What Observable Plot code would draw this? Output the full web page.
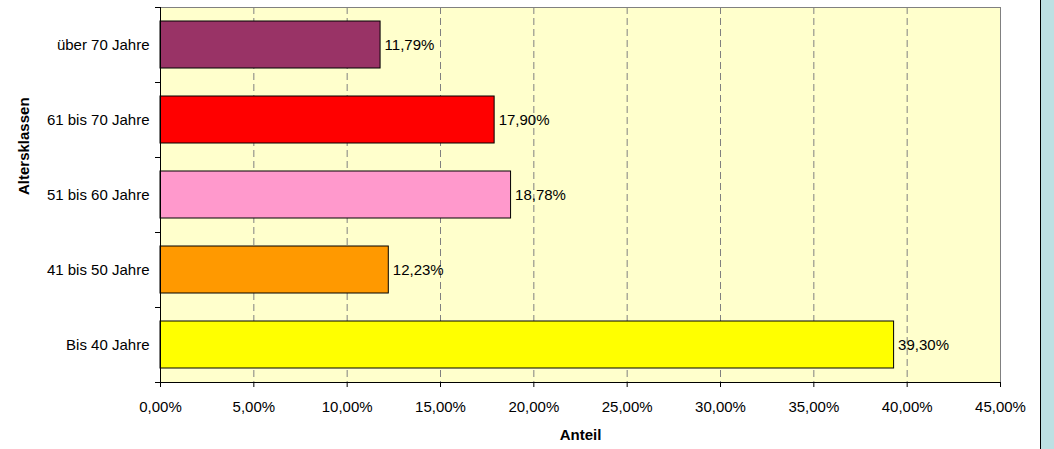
<!DOCTYPE html>
<html><head><meta charset="utf-8">
<script src="https://cdn.jsdelivr.net/npm/d3@7"></script>
<script src="https://cdn.jsdelivr.net/npm/@observablehq/plot@0.6"></script>
<style>
body{margin:0;background:#fff;font-family:"Liberation Sans",Arial,sans-serif;}
#wrap{position:relative;width:1054px;height:449px;overflow:hidden}
#strip{position:absolute;left:1040px;top:0;width:14px;height:449px;background:#BDE0E3;border-left:1px solid #000;box-sizing:border-box}
</style></head><body><div id="wrap"><div id="strip"></div></div>
<script>
const categories = ["über 70 Jahre","61 bis 70 Jahre","51 bis 60 Jahre","41 bis 50 Jahre","Bis 40 Jahre"];
const shares = [0.1179, 0.1790, 0.1878, 0.1223, 0.3930];
const colors = ["#993366","#FF0000","#FF99CC","#FF9900","#FFFF00"];
const xTicks = [0, 0.05, 0.10, 0.15, 0.20, 0.25, 0.30, 0.35, 0.40, 0.45];
const gridTicks = xTicks.slice(1, -1);
const fmt = d => (d * 100).toFixed(2).replace(".", ",") + "%";
const data = categories.map((c, i) => ({c, v: shares[i]}));

const W = 1054, H = 449, mt = 7, mb = 67, ml = 160, mr = 54;
const step = (H - mt - mb) / categories.length;

const chart = Plot.plot({
  width: W, height: H,
  marginTop: mt, marginBottom: mb, marginLeft: ml, marginRight: mr,
  style: {fontFamily: "'Liberation Sans', Arial, sans-serif", fontSize: "15px", color: "#000", background: "transparent"},
  x: {domain: [0, 0.45]},
  y: {domain: categories, paddingInner: 0.37, paddingOuter: 0.185},
  color: {domain: categories, range: colors},
  marks: [
    Plot.frame({fill: "#FFFFCC", stroke: "#808080"}),
    Plot.ruleX(gridTicks, {stroke: "#808080", strokeDasharray: "7,4"}),
    Plot.barX(data, {y: "c", x: "v", fill: "c", stroke: "black", strokeWidth: 1}),
    Plot.text(data, {y: "c", x: "v", text: d => fmt(d.v), dx: 4, textAnchor: "start", fill: "black"}),
    Plot.ruleX([0], {stroke: "black"}),
    Plot.frame({anchor: "bottom", stroke: "black"}),
    Plot.axisX(xTicks, {tickSize: 5, tickPadding: 14, tickFormat: fmt, label: null, stroke: "black"}),
    Plot.axisY({tickSize: 0, tickPadding: 11, label: null}),
    Plot.axisY({tickSize: 5, text: null, dy: -step / 2, label: null, stroke: "black"}),
    Plot.axisY([categories[categories.length - 1]], {tickSize: 5, text: null, dy: step / 2, label: null, stroke: "black"}),
    Plot.text(["Anteil"], {frameAnchor: "bottom", dy: 57, fontWeight: "bold", fill: "black"}),
    Plot.text(["Altersklassen"], {frameAnchor: "left", dx: -136, rotate: -90, fontWeight: "bold", fill: "black"})
  ]
});
document.getElementById("wrap").prepend(chart);
</script>
</body></html>
